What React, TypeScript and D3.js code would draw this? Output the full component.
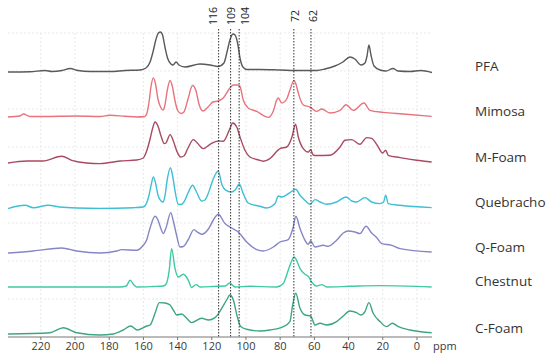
import React from "react";
import * as d3 from "d3";

type Pt = [number, number];

// ppm axis ticks and marked shifts
const ticks = [220, 200, 180, 160, 140, 120, 100, 80, 60, 40, 20, 0];
const markers = [116, 109, 104, 72, 62];

// sample names (top to bottom) and stacking offsets (a.u.)
const names = ["PFA", "Mimosa", "M-Foam", "Quebracho", "Q-Foam", "Chestnut", "C-Foam"];
const offsets = [265, 220, 174, 129, 84, 50, 3];
const colors = ["#595959", "#e8737c", "#a84a62", "#3fbfd6", "#8686c6", "#3fcaa2", "#3ea584"];

// spectra: [ppm, intensity]
const pfa: Pt[] = [
  [239.2, 0], [226.3, 0.3], [217.5, 1.5], [213.5, 0.5], [207.6, 1.5], [202.9, 3.5], [198.2, 1.5],
  [191.2, 0.5], [179.5, 0.5], [170.8, 1.5], [162, 2], [158.5, 4], [156.1, 10], [154.4, 20],
  [152.6, 33], [151.2, 39], [150, 40], [148.8, 37], [147.4, 25], [145.9, 14], [143.9, 8],
  [142.7, 7], [140.9, 10], [139.2, 7], [135.7, 5], [126.9, 8], [121, 7], [116.4, 5.5],
  [112.9, 9], [111.1, 20], [109.4, 32], [107.6, 38], [106.4, 37], [104.7, 27], [103.5, 14],
  [101.8, 5], [99.4, 2.5], [91.8, 2.5], [80.1, 2], [68.4, 1.5], [58.5, 1.5], [53.8, 3],
  [48, 6], [43.3, 10], [39.2, 15], [36.3, 13], [32.7, 7], [30.4, 9], [29.2, 16], [28.1, 27],
  [26.9, 17], [25.1, 6], [21.6, 2], [18.1, 1], [14, 3.5], [11.1, 1], [4.1, 0.5], [-2.3, 1.5],
  [-8.8, -0.5],
];
const mimosa: Pt[] = [
  [239.2, 0], [232.2, 1], [230.2, 3], [226.3, 0.5], [218.7, 0.5], [199, 1], [185.4, 0.5],
  [179.5, 1.7], [170.8, 0.7], [163.9, 0], [159.1, 0.5], [158.1, 3], [156.7, 15], [155.6, 30],
  [154.2, 39], [152.9, 33], [151.5, 18], [149.7, 9], [148.5, 7], [147.4, 12], [145.9, 28],
  [144.4, 36.5], [143, 30], [141.5, 16], [139.8, 6], [138, 3.5], [136.3, 5], [133.9, 18],
  [131.3, 31.5], [129.2, 26], [127.5, 13], [125.1, 6], [122.2, 10], [119.3, 15], [116.2, 16],
  [113.3, 19], [109.4, 29], [107.4, 32], [104.7, 32], [103.5, 30.5], [101.6, 17], [98.7, 9],
  [93.7, 5.6], [88.9, 0.6], [87, -0.4], [84, 6], [82, 17], [81.1, 19], [79.1, 14], [76.2, 18],
  [74.3, 27], [71.9, 36.6], [70.8, 33], [69.4, 24], [66.5, 12], [62.6, 10], [58.7, 5.6],
  [55.7, 8], [50.9, 4], [45, 6.6], [41.5, 12.3], [37.3, 6.6], [31, 14], [27.5, 6.6],
  [19.7, 4.6], [8, 3], [-8.6, 0.6],
];
const mFoam: Pt[] = [
  [239.2, 0], [228.2, 2], [218.7, 2], [207.8, 6.7], [201.9, 2.7], [193.2, 0], [185.4, -0.6],
  [173.7, 2], [163.9, 3], [160.1, 5], [158.1, 12], [156.1, 24], [154.4, 36], [153.2, 41],
  [151.5, 37], [149.7, 27], [147.8, 19.4], [146.8, 20], [144.4, 28.4], [142.5, 22],
  [140.5, 12], [138.2, 6], [136.3, 7], [133.9, 15], [130.8, 23.4], [128.5, 20], [125, 14.4],
  [121, 18.7], [116.2, 22], [113.3, 21.7], [109.4, 34.4], [107.8, 40], [105.4, 36],
  [103.5, 26], [100.6, 12.7], [97.7, 6], [91.8, 2.7], [89.9, 1.7], [86, 4.4], [80.1, 14.4],
  [76.2, 16], [73.3, 25], [71, 38.7], [69.4, 26], [66.5, 14.4], [63.6, 11], [62.2, 13.4],
  [60.6, 7.7], [58.7, 7.5], [50.9, 7.7], [45, 16], [42.1, 22.7], [38.2, 23.4], [33.3, 18.7],
  [29.4, 25.4], [26.5, 24.7], [23.2, 17.7], [20.1, 10], [18.3, 12.7], [16.8, 7.7], [9.9, 5.4],
  [0.2, 2.7], [-8.6, 1],
];
const quebracho: Pt[] = [
  [239.2, -0.6], [229.2, 2.7], [224.4, 0.3], [215.6, 2.7], [208.8, 1], [199, 0], [185.4, -0.4],
  [165.9, 0.3], [160.1, 1], [158.1, 5], [156.7, 13], [155.6, 22], [154.2, 31], [152.9, 25],
  [151.5, 13], [149.7, 7], [148.4, 6], [147.4, 12], [145.9, 30], [144.2, 40.4], [143, 33],
  [141.5, 17], [139.6, 3.7], [138, 3.5], [136.3, 6], [133.9, 15], [131.2, 22.7], [129.2, 17],
  [125.9, 7], [124, 8], [122.2, 14], [120.1, 24.4], [118.1, 33], [116.2, 37], [114.2, 24],
  [112.3, 18.4], [108.4, 16], [106.4, 18], [103.9, 23.7], [101.6, 14.4], [98.7, 5],
  [91.8, 1.7], [87.9, 0], [83, 4.4], [81.1, 12], [79.1, 11], [74.3, 15.4], [70.9, 18.7],
  [68.4, 12.7], [65.5, 7.7], [62.6, 3.7], [59.6, 8.4], [56.7, 6], [52.8, 3.7], [47, 6],
  [41.5, 11], [38.2, 7], [35.3, 6], [30.4, 10.4], [26.5, 6], [21.6, 4.4], [19.5, 6],
  [18.3, 12.7], [16.8, 4.4], [9.9, 2.7], [-8.6, 0.4],
];
const qFoam: Pt[] = [
  [239.2, 0], [224.4, 2], [207.8, 5], [199, 2], [185.4, 0], [175.6, 2], [172.7, 3.4],
  [163.9, 2.7], [160.1, 7.7], [158.1, 13], [156.1, 25], [153.2, 36.7], [151.5, 33],
  [149.7, 24], [148.4, 19.4], [146.8, 25], [144, 40.4], [142.5, 32], [140.5, 17], [138.6, 6],
  [136.7, 6.5], [133.9, 13], [130.4, 23.4], [128.5, 21], [125.9, 18.7], [122, 24],
  [119.1, 33], [116.2, 38.7], [112.3, 29.4], [109.4, 26], [104.5, 21], [99.6, 11],
  [93.7, 3.4], [89.9, 2], [84, 6], [80.1, 11], [75.3, 13.4], [72.5, 25], [70.8, 36.7],
  [68.4, 24.4], [65.5, 12.7], [63.6, 8.7], [62.2, 12], [59.6, 6], [54.8, 7.7], [51.9, 6.7],
  [47, 12.7], [43.1, 20], [40.2, 22], [36.3, 21], [33.3, 19.4], [29.8, 26.7], [26.5, 20],
  [23.6, 15.4], [20.6, 9.4], [14.8, 7.7], [9.9, 4.4], [-8.6, 1],
];
const chestnut: Pt[] = [
  [239.2, 0], [173.7, 0], [170, 1], [167.8, 6.7], [165.5, 2], [163.9, 0], [154.4, 0.5],
  [148.4, 1], [146.8, 2.7], [144.9, 16.7], [143.5, 38.4], [141.5, 18.4], [139.6, 10],
  [136.7, 12.7], [133.7, 6.7], [131.8, -0.6], [129.2, 2.4], [126.9, 0], [117.1, 0.7],
  [112, 1], [109.7, 4], [106.4, 0], [97.7, 0.7], [82, 0], [78.2, 3.4], [75.3, 16.7],
  [73.3, 26], [71.9, 30], [70.8, 28], [68.4, 18.4], [65.5, 12.7], [63.6, 10.7], [61.6, 5],
  [58.7, 1], [55.7, 2.4], [52.8, 0], [39.2, 0.7], [21.6, 1.4], [-8.6, 0],
];
const cFoam: Pt[] = [
  [239.2, 0], [214.6, 1.3], [206.8, 6.3], [199, 1.3], [185.4, -1], [177.6, 0], [171.8, 4],
  [167.4, 8], [163.6, 4], [158.1, 8], [156.1, 9], [153.2, 20.7], [150.7, 31.4], [147.4, 31],
  [144.4, 29], [142.5, 24], [140.5, 19], [137.6, 20], [134.7, 15.7], [131.8, 11.4],
  [125.9, 15.7], [122, 14], [118.1, 16.4], [114.2, 25.7], [111.3, 34], [109.4, 39],
  [107.4, 34], [105.1, 17.4], [103.1, 7.4], [99.6, 4.7], [91.8, 3], [86, 4], [78.2, 7.4],
  [74.3, 12.4], [72.8, 28], [70.9, 40.7], [68.4, 25.7], [65.5, 19], [62.2, 18], [59.6, 9],
  [56.7, 10.7], [52.8, 9], [47, 12.4], [43.1, 18], [39.2, 23], [35.3, 21.4], [32.9, 19],
  [30.4, 22.4], [28.1, 31.4], [25.6, 20.7], [21.6, 12.4], [17.7, 7.4], [14.4, 10.7],
  [10.9, 7.4], [4.1, 4], [-8.6, 1.3],
];
const spectra = [pfa, mimosa, mFoam, quebracho, qFoam, chestnut, cFoam];

const W = 550;
const H = 358;
const FONT = "'Open Sans', 'Noto Sans', sans-serif";

export default function App() {
  const x = d3.scaleLinear().domain([239.2, -8.8]).range([8, 432]);
  const y = d3.scaleLinear().domain([0, 310]).range([337, 27]);
  const top = 29;

  const line = (off: number) =>
    d3
      .line<Pt>()
      .x((d) => x(d[0]))
      .y((d) => y(off + d[1]))
      .curve(d3.curveMonotoneX);

  const hGrid = d3.range(38, 310, 38);
  const markerDx = [-6, 0, 6, 1, 2];

  return (
    <svg width={W} height={H} style={{ position: "absolute", left: 0, top: 0, background: "#fff" }}>
      {/* faint grid */}
      <g stroke="#e9e9e9" strokeWidth={1} strokeDasharray="2,2">
        {ticks.map((t) => (
          <line key={t} x1={x(t)} x2={x(t)} y1={top + 4} y2={y(0)} />
        ))}
        {hGrid.map((v) => (
          <line key={v} x1={x(239.2)} x2={x(-8.8)} y1={y(v)} y2={y(v)} />
        ))}
      </g>

      {/* spectra */}
      {spectra.map((s, i) => (
        <path key={names[i]} d={line(offsets[i])(s)!} fill="none" stroke={colors[i]} strokeWidth={1.4} />
      ))}

      {/* marker lines */}
      {markers.map((m, i) => (
        <g key={m}>
          <line x1={x(m)} x2={x(m)} y1={top} y2={y(0)} stroke="#333" strokeWidth={1} strokeDasharray="1.5,1.5" />
          <text
            transform={`translate(${x(m) + markerDx[i] + 4},16) rotate(-90)`}
            textAnchor="middle"
            fontSize={10.5}
            fontFamily={FONT}
            fill="#222"
          >
            {m}
          </text>
        </g>
      ))}

      {/* x axis */}
      <line x1={x(239.2)} x2={x(-8.8)} y1={y(0)} y2={y(0)} stroke="#777" strokeWidth={1} />
      {ticks.map((t) => (
        <g key={t}>
          <line x1={x(t)} x2={x(t)} y1={y(0)} y2={y(0) + 3} stroke="#777" />
          <text x={x(t)} y={350} textAnchor="middle" fontSize={11} fontFamily={FONT} fill="#3a3a3a">
            {t}
          </text>
        </g>
      ))}
      <text x={433} y={350} fontSize={11} fontFamily={FONT} fill="#3a3a3a">
        ppm
      </text>

      {/* sample labels */}
      {names.map((n, i) => (
        <text key={n} x={475} y={y(offsets[i]) - 1} fontSize={13.5} fontFamily={FONT} fill="#333">
          {n}
        </text>
      ))}
    </svg>
  );
}
